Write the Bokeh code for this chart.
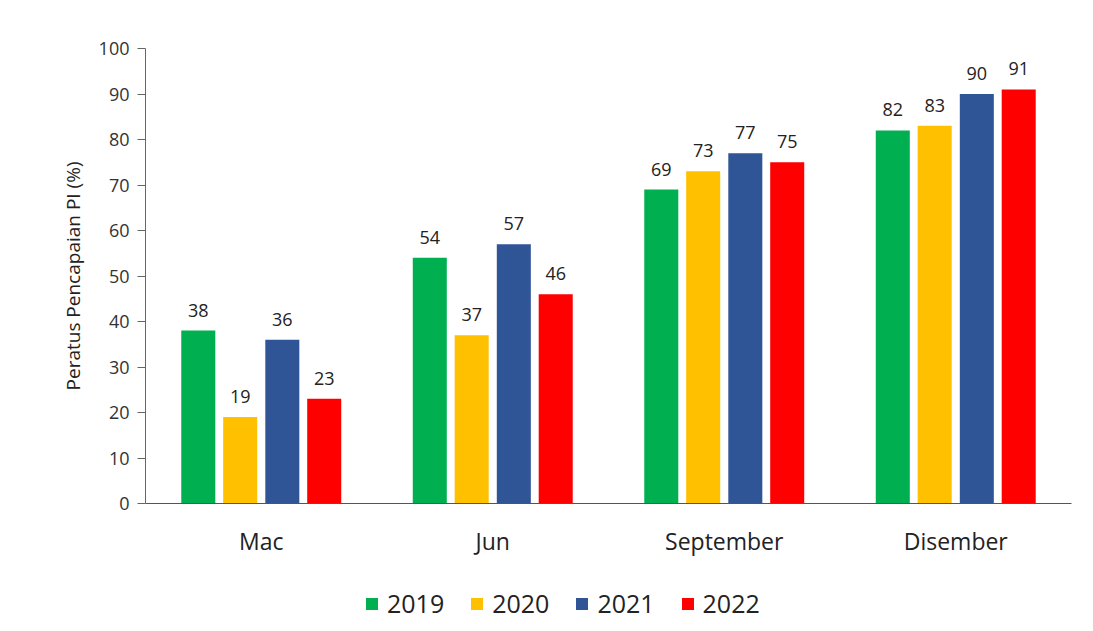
from bokeh.plotting import figure
from bokeh.layouts import column
from bokeh.models import ColumnDataSource, FactorRange, FixedTicker, Legend, LegendItem, LabelSet
from bokeh.transform import dodge
from bokeh.core.properties import value
from bokeh.embed import file_html
from bokeh.resources import INLINE

months = ["Mac", "Jun", "September", "Disember"]
years = ["2019", "2020", "2021", "2022"]
v2019 = [38, 54, 69, 82]
v2020 = [19, 37, 73, 83]
v2021 = [36, 57, 77, 90]
v2022 = [23, 46, 75, 91]
colors = ["#00B050", "#FFC000", "#2F5597", "#FF0000"]
y_ticks = [0, 10, 20, 30, 40, 50, 60, 70, 80, 90, 100]

FONT = "Open Sans"
src = ColumnDataSource(dict(month=months, y2019=v2019, y2020=v2020, y2021=v2021, y2022=v2022,
                            l2019=[str(v) for v in v2019], l2020=[str(v) for v in v2020],
                            l2021=[str(v) for v in v2021], l2022=[str(v) for v in v2022]))

p = figure(width=1093, height=575, x_range=FactorRange(factors=months, range_padding=0),
           y_range=(0, 100), output_backend="svg", toolbar_location=None,
           min_border_left=145, min_border_right=22, min_border_top=48, min_border_bottom=72)
p.outline_line_color = None
p.xgrid.grid_line_color = None
p.ygrid.grid_line_color = None

offsets = [-0.272, -0.091, 0.091, 0.272]
for yr, off, c in zip(years, offsets, colors):
    p.vbar(x=dodge("month", off, range=p.x_range), top="y" + yr, width=0.147, source=src,
           fill_color=c, line_color=None)
    lbl = LabelSet(x=dodge("month", off, range=p.x_range), y="y" + yr, text="l" + yr, source=src,
                   text_align="center", text_baseline="bottom", y_offset=14,
                   text_font=value(FONT), text_font_size="18px", text_color="#222222")
    p.add_layout(lbl)

p.yaxis.ticker = FixedTicker(ticks=y_ticks)
p.yaxis.axis_label = "Peratus Pencapaian PI (%)"
p.yaxis.axis_label_text_font = FONT
p.yaxis.axis_label_text_font_size = "19px"
p.yaxis.axis_label_text_font_style = "normal"
p.yaxis.axis_label_text_color = "#222222"
p.yaxis.axis_label_standoff = 10
p.yaxis.major_label_text_font = FONT
p.yaxis.major_label_text_font_size = "18px"
p.yaxis.major_label_text_color = "#333333"
p.yaxis.major_tick_in = 0
p.yaxis.major_tick_out = 8
p.yaxis.minor_tick_line_color = None
p.yaxis.axis_line_color = "#666666"
p.yaxis.major_tick_line_color = "#666666"
p.yaxis.major_label_standoff = 8

p.xaxis.major_tick_line_color = None
p.xaxis.minor_tick_line_color = None
p.xaxis.axis_line_color = "#555555"
p.xaxis.major_label_text_font = FONT
p.xaxis.major_label_text_font_size = "23px"
p.xaxis.major_label_text_color = "#222222"
p.xaxis.major_label_standoff = 15

# legend strip below the chart (its frame is aligned with the chart frame by the column layout)
lf = figure(width=1093, height=56, x_range=(0, 1), y_range=(0, 1), output_backend="svg",
            toolbar_location=None, x_axis_location=None, y_axis_location=None,
            min_border=0)
lf.outline_line_color = None
lf.xgrid.grid_line_color = None
lf.ygrid.grid_line_color = None
items = []
for yr, c in zip(years, colors):
    r = lf.vbar(x=[0.5], top=[0], bottom=[0], width=0.1, fill_color=c, line_color=None)
    items.append(LegendItem(label=yr, renderers=[r]))
legend = Legend(items=items, orientation="horizontal", location=(219, 11),
                label_text_font=FONT, label_text_font_size="25px", label_text_color="#222222",
                glyph_width=15, glyph_height=15, label_standoff=8, spacing=25,
                border_line_color=None, background_fill_alpha=0, margin=0, padding=0)
lf.add_layout(legend, "center")

open("out.html", "w").write(file_html(column(p, lf, spacing=0), INLINE))
